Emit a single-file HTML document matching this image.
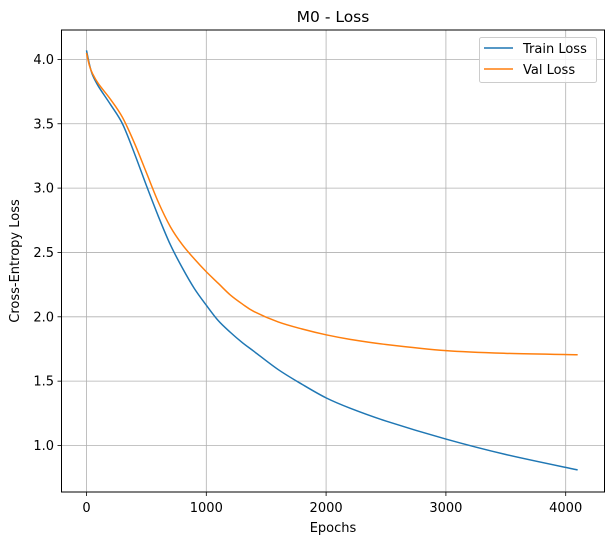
<!DOCTYPE html>
<html><head><meta charset="utf-8"><style>
body{margin:0;background:#fff;font-family:"Liberation Sans","DejaVu Sans",sans-serif}
svg text{font-family:"DejaVu Sans","Liberation Sans",sans-serif;font-size:13px;fill:#000}
</style></head><body>
<svg id="chart" width="613" height="545">
<rect width="613" height="545" fill="#fff"/>
<g id="grid"></g>
<g id="axes"></g>
<g id="series"></g>
<rect x="61.5" y="30" width="543" height="462" fill="none" stroke="#000" stroke-width="1"/>
<text x="333" y="22" text-anchor="middle" style="font-size:15.5px">M0 - Loss</text>
<text x="333" y="532" text-anchor="middle">Epochs</text>
<text x="19" y="261" text-anchor="middle" transform="rotate(-90 19 261)">Cross-Entropy Loss</text>
<g>
<rect x="479.5" y="37.5" width="117" height="45" rx="2" fill="#fff" fill-opacity="0.8" stroke="#ccc"/>
<line x1="484" y1="48" x2="513" y2="48" stroke="#1f77b4" stroke-width="1.5"/>
<text x="523" y="53">Train Loss</text>
<line x1="484" y1="69" x2="513" y2="69" stroke="#ff7f0e" stroke-width="1.5"/>
<text x="523" y="74">Val Loss</text>
</g>
</svg>
<script>
const epochs = [0,25,50,100,200,300,400,500,600,700,800,900,1000,1100,1200,1300,1400,1600,1800,2000,2200,2500,3000,3500,4100];
const trainLoss = [4.07,3.96,3.88,3.79,3.65,3.50,3.27,3.02,2.78,2.56,2.38,2.22,2.09,1.97,1.88,1.80,1.73,1.59,1.475,1.37,1.29,1.19,1.05,0.93,0.81];
const valLoss = [4.05,3.95,3.89,3.81,3.69,3.55,3.35,3.12,2.89,2.70,2.56,2.45,2.35,2.26,2.17,2.10,2.04,1.96,1.905,1.86,1.825,1.785,1.737,1.716,1.705];
const xTicks = [0,1000,2000,3000,4000];
const yTicks = [1.0,1.5,2.0,2.5,3.0,3.5,4.0];
const yTickLabels = ["1.0","1.5","2.0","2.5","3.0","3.5","4.0"];
const X = v => 86.5 + v * 0.1198;
const Y = v => 59.4 + (4 - v) * 128.7;
const NS = "http://www.w3.org/2000/svg";
const grid = document.getElementById('grid'), axes = document.getElementById('axes'), series = document.getElementById('series');
function mk(tag, attrs, parent){const e=document.createElementNS(NS,tag);for(const k in attrs)e.setAttribute(k,attrs[k]);parent.appendChild(e);return e;}
xTicks.forEach(t=>{
  const g=mk('line',{x1:X(t),x2:X(t),y1:30,y2:492,stroke:'#b0b0b0','stroke-width':0.8},grid);
  
  
  const tk=mk('line',{x1:X(t),x2:X(t),y1:492,y2:496,stroke:'#000','stroke-width':0.8},axes);
  
  
  const tx=mk('text',{x:X(t),y:512,'text-anchor':'middle'},axes);tx.textContent=t;
  
  
});
yTicks.forEach((t,i)=>{
  const g=mk('line',{x1:61.5,x2:604.5,y1:Y(t),y2:Y(t),stroke:'#b0b0b0','stroke-width':0.8},grid);
  
  
  const tk=mk('line',{x1:57.5,x2:61.5,y1:Y(t),y2:Y(t),stroke:'#000','stroke-width':0.8},axes);
  
  
  const tx=mk('text',{x:54,y:Y(t)+4.5,'text-anchor':'end'},axes);tx.textContent=yTickLabels[i];
  
  
});
function path(vals){
  const p=epochs.map((e,i)=>[X(e),Y(vals[i])]);
  let d='M'+p[0][0]+','+p[0][1];
  for(let i=0;i<p.length-1;i++){
    const p0=p[Math.max(0,i-1)],p1=p[i],p2=p[i+1],p3=p[Math.min(p.length-1,i+2)];
    const c1=[p1[0]+(p2[0]-p0[0])/6,p1[1]+(p2[1]-p0[1])/6];
    const c2=[p2[0]-(p3[0]-p1[0])/6,p2[1]-(p3[1]-p1[1])/6];
    d+=' C'+c1+' '+c2+' '+p2;
  }
  return d;
}
const tl=mk('path',{d:path(trainLoss),fill:'none',stroke:'#1f77b4','stroke-width':1.5},series);


const vl=mk('path',{d:path(valLoss),fill:'none',stroke:'#ff7f0e','stroke-width':1.5},series);


</script>
</body></html>
